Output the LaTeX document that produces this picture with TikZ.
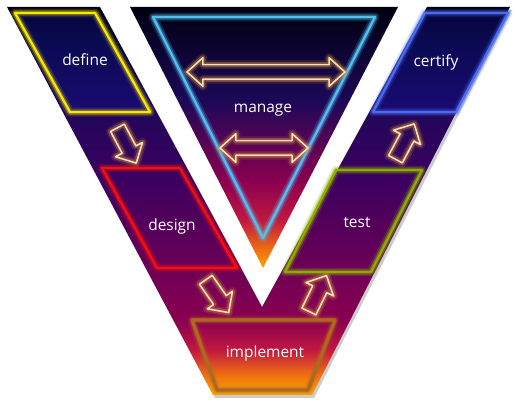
\documentclass[tikz,border=0pt]{standalone}
\usepackage{fontspec}
\setmainfont{Open Sans}
\usetikzlibrary{shapes.arrows}
\definecolor{vorange}{HTML}{F8A800}
\definecolor{vamber}{HTML}{F07010}
\definecolor{vred}{HTML}{C01840}
\definecolor{vmagenta}{HTML}{8A0050}
\definecolor{vpurple}{HTML}{620058}
\definecolor{vviolet}{HTML}{3C0060}
\definecolor{vindigo}{HTML}{1C0858}
\definecolor{vnavy}{HTML}{080830}
\definecolor{vtop}{HTML}{000010}
\definecolor{defcol}{HTML}{F8E800}
\definecolor{descol}{HTML}{F01010}
\definecolor{impcol}{HTML}{B06820}
\definecolor{tstcol}{HTML}{8CAC00}
\definecolor{cercol}{HTML}{4C6CF0}
\definecolor{mancol}{HTML}{50C0F0}
\definecolor{arrcore}{HTML}{F8E0B8}
\definecolor{arrglow}{HTML}{D08838}
\definecolor{boxblue}{HTML}{1010A0}
\pgfdeclareverticalshading{vband}{100bp}{color(0bp)=(vorange); color(25bp)=(vorange);
  color(27.6bp)=(vamber); color(30.8bp)=(vred); color(34.6bp)=(vmagenta);
  color(43.7bp)=(vpurple); color(52.7bp)=(vviolet); color(63bp)=(vindigo);
  color(70.7bp)=(vnavy); color(75bp)=(vtop); color(100bp)=(vtop)}
\pgfdeclareverticalshading{mshade}{100bp}{color(0bp)=(vorange); color(25bp)=(vorange);
  color(28.4bp)=(vamber); color(34.2bp)=(vred); color(41.8bp)=(vmagenta);
  color(57.2bp)=(vindigo); color(75bp)=(vtop); color(100bp)=(vtop)}
\tikzset{
  glow/.style={preaction={draw=#1, line width=5pt, opacity=.18, line join=round},
    preaction={draw=#1, line width=3pt, opacity=.4, line join=round},
    draw=#1, line width=1.3pt, line join=round},
  stagetext/.style={text=white, font=\fontsize{8.8}{10}\selectfont},
  blockarrow/.style={single arrow, glow=arrglow, draw=arrcore, line width=.9pt,
    minimum height=.8cm, inner sep=0pt, inner ysep=.14cm, single arrow head extend=.15cm},
  twoway/.style={double arrow, glow=arrglow, draw=arrcore, line width=.9pt,
    inner sep=0pt, inner ysep=.13cm, double arrow head extend=.14cm, double arrow tip angle=84}
}
\begin{document}
\begin{tikzpicture}[x=0.02cm, y=-0.02cm]
\useasboundingbox (0,0) rectangle (515,401);
% V and the manage triangle
\fill[black, opacity=.2] (9,10) -- (102,10) -- (264,310) -- (429,10) -- (512,10) -- (314,398) -- (215,398) -- cycle;
\shade[shading=vband] (7,7) -- (100,7) -- (262,307) -- (427,7) -- (510,7) -- (312,395) -- (213,395) -- cycle;
\shade[shading=mshade] (130,7) -- (398,7) -- (263,268) -- cycle;
% stage boxes
\draw[glow=defcol, fill=boxblue, fill opacity=.3] (15,13) -- (95,13) -- (150,112) -- (70,112) -- cycle;
\draw[glow=descol] (102,168) -- (180,168) -- (237,268) -- (157,268) -- cycle;
\draw[glow=impcol, line width=1.8pt] (192,320) -- (335,320) -- (308,390) -- (217,390) -- cycle;
\draw[glow=tstcol] (336,170) -- (422,170) -- (371,272) -- (285,272) -- cycle;
\draw[glow=cercol, fill=boxblue, fill opacity=.3] (425,13) -- (508,13) -- (456,112) -- (373,112) -- cycle;
\draw[glow=mancol] (153,17) -- (375,17) -- (263,238) -- cycle;
\node[stagetext] (define) at (85,60) {define};
\node[stagetext] (design) at (172,226) {design};
\node[stagetext] (implement) at (265,353) {implement};
\node[stagetext] (test) at (357,222) {test};
\node[stagetext] (certify) at (436,62) {certify};
\node[stagetext] (manage) at (263,110) {manage};
% arrows
\node[blockarrow, rotate=-62] (a1) at (125,142) {};
\node[blockarrow, rotate=-55] (a2) at (215,293) {};
\node[blockarrow, rotate=64] (a3) at (316,297) {};
\node[blockarrow, rotate=62] (a4) at (403,145) {};
\node[twoway, minimum height=3.16cm] (sync1) at (266,72) {};
\node[twoway, minimum height=1.76cm] (sync2) at (264,148) {};
\end{tikzpicture}
\end{document}
